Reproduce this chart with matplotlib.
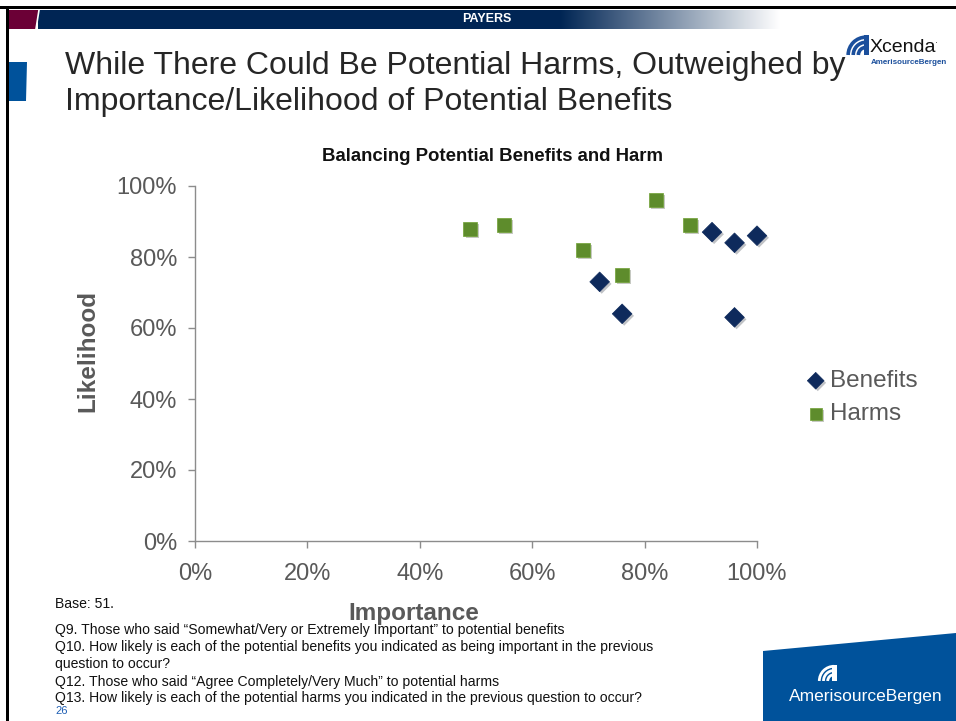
import numpy as np
import matplotlib
matplotlib.use("Agg")
import matplotlib.pyplot as plt
from matplotlib.patches import Polygon, Rectangle, Arc
from matplotlib import patheffects as pe
from matplotlib.ticker import FuncFormatter

plt.rcParams['font.family'] = ['Liberation Sans', 'DejaVu Sans']

# ---- data (importance %, likelihood %) ----
benefits_importance = [72, 76, 92, 96, 100, 96]
benefits_likelihood = [73, 64, 87, 84, 86, 63]
harms_importance = [49, 55, 69, 76, 82, 88]
harms_likelihood = [88, 89, 82, 75, 96, 89]
series_names = ["Benefits", "Harms"]
axis_ticks = [0, 20, 40, 60, 80, 100]

W, H = 956, 721
fig = plt.figure(figsize=(W / 100, H / 100), dpi=100)
fig.patch.set_facecolor("white")

# ---- slide decoration layer in pixel coordinates ----
bg = fig.add_axes([0, 0, 1, 1], zorder=0)
bg.axis("off")

NAVY = "#002554"
# top and left frame lines
bg.add_patch(Rectangle((0, 6), W, 3, color="black", lw=0))
bg.add_patch(Rectangle((6, 6), 3, H, color="black", lw=0))
# header band: navy fading to white
grad = np.ones((1, 400, 3))
navy_rgb = np.array(matplotlib.colors.to_rgb(NAVY))
t = np.linspace(0, 1, 400)[:, None]
grad[0] = navy_rgb * (1 - t) + np.ones(3) * t
bg.add_patch(Rectangle((38, 10), 560 - 38, 19, color=NAVY, lw=0))
bg.imshow(grad, extent=(560, 780, 29, 10), aspect="auto", zorder=1)
bg.add_patch(Polygon([(9, 10), (39, 10), (36, 29), (9, 29)], closed=True,
                     color="#6B0036", lw=0, zorder=2))
bg.plot([39, 36], [10, 29], color="white", lw=1.2, zorder=3)
bg.text(487, 19.5, "PAYERS", color="white", fontsize=9, fontweight="bold",
        ha="center", va="center", zorder=4)
bg.set_xlim(0, W)
bg.set_ylim(H, 0)

# left accent block
bg.add_patch(Polygon([(9, 62), (27, 62), (26, 101), (9, 101)], closed=True,
                     color="#00529B", lw=0))

# slide title
bg.text(65, 66, "While There Could Be Potential Harms, Outweighed by",
        fontsize=23, color="#262626", va="center", ha="left")
bg.text(65, 102, "Importance/Likelihood of Potential Benefits",
        fontsize=23, color="#262626", va="center", ha="left")


def brand_mark(ax, cx, cy, scale, color, lw):
    """Concentric wave bands with a vertical bar, anchored at lower-right."""
    for r in (0.45, 0.75, 1.05):
        ax.add_patch(Arc((cx, cy), 2 * r * scale, 2 * r * scale,
                         theta1=180, theta2=270, color=color, lw=lw, zorder=5))
    ax.add_patch(Rectangle((cx - 0.12 * scale, cy - 1.15 * scale),
                           0.3 * scale, 1.15 * scale, color=color, lw=0,
                           zorder=5))


# Xcenda logo
LOGO_BLUE = "#1B4F9C"
brand_mark(bg, 866, 55, 17, LOGO_BLUE, 2.6)
bg.text(870, 47, "Xcenda", fontsize=14, color="#111111", va="center",
        ha="left")
bg.text(935, 44, "\u00b7", fontsize=6, color="#111111", va="center",
        ha="left")
bg.text(871, 62, "AmerisourceBergen", fontsize=5.8, color=LOGO_BLUE,
        fontweight="bold", va="center", ha="left")

# bottom-right brand block
bg.add_patch(Polygon([(763, 651), (956, 633), (956, 721), (763, 721)],
                     closed=True, color="#00529B", lw=0))
brand_mark(bg, 834, 681, 14, "white", 2.0)
bg.text(866, 697, "AmerisourceBergen", fontsize=12.5, color="white",
        va="center", ha="center")

# footnotes
foot = [
    (604, "Base: 51."),
    (630, "Q9. Those who said \u201cSomewhat/Very or Extremely Important\u201d to potential benefits"),
    (647, "Q10. How likely is each of the potential benefits you indicated as being important in the previous"),
    (664, "question to occur?"),
    (682, "Q12. Those who said \u201cAgree Completely/Very Much\u201d to potential harms"),
    (698, "Q13. How likely is each of the potential harms you indicated in the previous question to occur?"),
]
for y, s in foot:
    bg.text(55, y, s, fontsize=10.1, color="#111111", va="center", ha="left")
bg.text(55, 711, "26", fontsize=8, color="#1F5FB4", va="center", ha="left")

# ---- scatter chart ----
ax = fig.add_axes([195 / W, 1 - 541 / H, 562 / W, 355 / H], zorder=2)
ax.set_facecolor("none")
ax.set_xlim(0, 100)
ax.set_ylim(0, 100)

shadow = [pe.SimplePatchShadow(offset=(1.5, -1.5), alpha=0.25), pe.Normal()]
bl = ax.scatter(benefits_importance, benefits_likelihood, marker="D", s=100,
                color="#0E2A5C", edgecolor="#0E2A5C", linewidths=0.5,
                zorder=3, clip_on=False, label=series_names[0])
hm = ax.scatter(harms_importance, harms_likelihood, marker="s", s=100,
                color="#5E8C2C", edgecolor="#6FA033", linewidths=0.5,
                zorder=3, clip_on=False, label=series_names[1])
bl.set_path_effects(shadow)
hm.set_path_effects(shadow)

ax.set_xticks(axis_ticks)
ax.set_yticks(axis_ticks)
fmt = FuncFormatter(lambda v, p: f"{v:.0f}%")
ax.xaxis.set_major_formatter(fmt)
ax.yaxis.set_major_formatter(fmt)
for s in ["top", "right"]:
    ax.spines[s].set_visible(False)
for s in ["left", "bottom"]:
    ax.spines[s].set_color("#8C8C8C")
    ax.spines[s].set_linewidth(1)
ax.tick_params(axis="both", colors="#8C8C8C", length=5, width=1,
               labelcolor="#595959", labelsize=17)
ax.tick_params(axis="x", pad=11)
ax.tick_params(axis="y", pad=8)

ax.set_title("Balancing Potential Benefits and Harm", fontsize=13.4,
             fontweight="bold", color="#111111", pad=18, x=0.53)
ax.set_ylabel("Likelihood", fontsize=17.5, fontweight="bold", color="#595959")
ax.yaxis.set_label_coords(-0.171, 0.535)
ax.set_xlabel("Importance", fontsize=17.5, fontweight="bold", color="#595959")
ax.xaxis.set_label_coords(0.39, -0.171)

leg = ax.legend(loc="center left", bbox_to_anchor=(1.072, 0.404),
                frameon=False, fontsize=17.5, labelcolor="#595959",
                handlelength=0.7, handletextpad=0.25, markerscale=0.85,
                labelspacing=0.45, borderaxespad=0)

fig.savefig("out.png", dpi=100, facecolor="white")
